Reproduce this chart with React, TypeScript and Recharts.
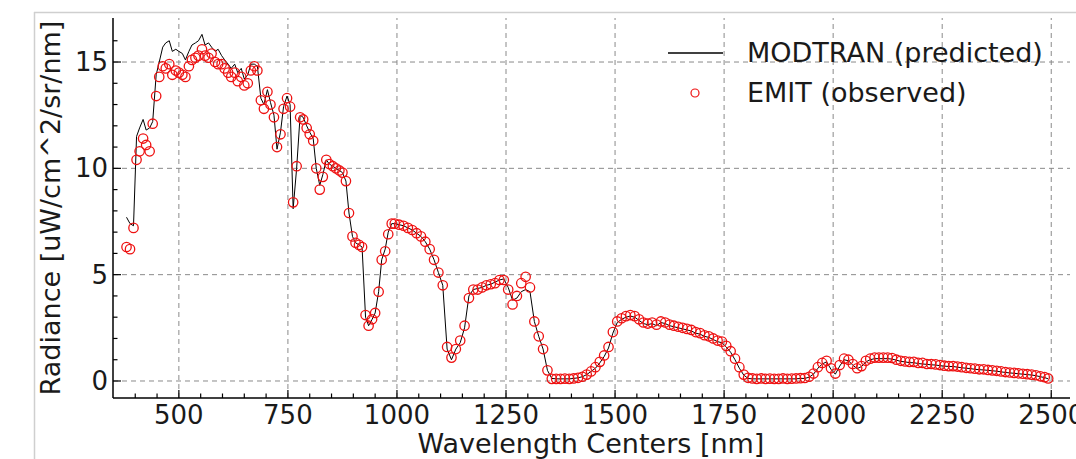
import React from 'react';
import { ComposedChart, Line, Scatter, XAxis, YAxis, ReferenceLine, Legend } from 'recharts';

const FONT = '"DejaVu Sans", "Liberation Sans", sans-serif';

// wavelength centers [nm]
const wavelengths = [
  380, 388, 396, 403, 410, 418, 425, 433, 440, 448,
  455, 463, 470, 478, 485, 493, 500, 508, 515, 523,
  530, 538, 545, 553, 560, 568, 575, 583, 590, 598,
  605, 613, 620, 628, 635, 643, 650, 658, 665, 673,
  680, 688, 695, 703, 710, 718, 725, 733, 740, 748,
  755, 762, 770, 778, 785, 793, 800, 808, 815, 823,
  830, 838, 845, 853, 860, 868, 875, 883, 890, 898,
  905, 913, 920, 928, 935, 943, 950, 958, 965, 973,
  980, 988, 995, 1005, 1015, 1025, 1035, 1045, 1055, 1065,
  1075, 1085, 1095, 1105, 1115, 1125, 1135, 1145, 1155, 1165,
  1175, 1185, 1195, 1205, 1215, 1225, 1235, 1245, 1255, 1265,
  1275, 1285, 1295, 1305, 1315, 1325, 1335, 1345, 1355, 1365,
  1375, 1385, 1395, 1405, 1415, 1425, 1435, 1445, 1455, 1465,
  1475, 1485, 1495, 1505, 1515, 1525, 1535, 1545, 1555, 1565,
  1575, 1585, 1595, 1605, 1615, 1625, 1635, 1645, 1655, 1665,
  1675, 1685, 1695, 1705, 1715, 1725, 1735, 1745, 1755, 1765,
  1775, 1785, 1795, 1805, 1815, 1825, 1835, 1845, 1855, 1865,
  1875, 1885, 1895, 1905, 1915, 1925, 1935, 1945, 1955, 1965,
  1975, 1985, 1995, 2005, 2015, 2025, 2035, 2045, 2055, 2065,
  2075, 2085, 2095, 2105, 2115, 2125, 2135, 2145, 2155, 2165,
  2175, 2185, 2195, 2205, 2215, 2225, 2235, 2245, 2255, 2265,
  2275, 2285, 2295, 2305, 2315, 2325, 2335, 2345, 2355, 2365,
  2375, 2385, 2395, 2405, 2415, 2425, 2435, 2445, 2455, 2465,
  2475, 2485, 2493,
];

// EMIT (observed) radiance
const emit = [
  6.3, 6.2, 7.2, 10.4, 10.8, 11.4, 11.1, 10.8, 12.1, 13.4,
  14.3, 14.8, 14.7, 14.9, 14.4, 14.6, 14.5, 14.4, 14.3, 14.8,
  15.1, 15.2, 15.3, 15.6, 15.3, 15.2, 15.4, 15.0, 14.9, 14.9,
  14.7, 14.5, 14.3, 14.5, 14.1, 14.3, 13.9, 14.0, 14.6, 14.8,
  14.6, 13.2, 12.8, 13.6, 13.0, 12.4, 11.0, 11.6, 12.8, 13.3,
  12.9, 8.4, 10.1, 12.4, 12.3, 11.9, 11.6, 11.3, 10.0, 9.0,
  9.6, 10.4, 10.2, 10.1, 10.0, 9.9, 9.8, 9.4, 7.9, 6.8,
  6.5, 6.4, 6.3, 3.1, 2.6, 2.9, 3.2, 4.2, 5.7, 6.1,
  6.9, 7.4, 7.4, 7.35, 7.3, 7.2, 7.1, 6.95, 6.8, 6.55,
  6.2, 5.7, 5.1, 4.5, 1.6, 1.1, 1.5, 1.9, 2.6, 3.9,
  4.3, 4.3, 4.4, 4.5, 4.55, 4.6, 4.75, 4.75, 4.3, 3.6,
  4.0, 4.6, 4.9, 4.4, 2.8, 2.1, 1.5, 0.5, 0.1, 0.1,
  0.1, 0.11, 0.1, 0.12, 0.15, 0.2, 0.3, 0.45, 0.65, 0.9,
  1.2, 1.6, 2.3, 2.8, 2.95, 3.05, 3.1, 3.05, 2.9, 2.75,
  2.7, 2.75, 2.65, 2.8, 2.75, 2.65, 2.6, 2.55, 2.5, 2.45,
  2.4, 2.3, 2.25, 2.15, 2.1, 2.0, 1.9, 1.85, 1.65, 1.4,
  1.05, 0.65, 0.3, 0.15, 0.12, 0.1, 0.12, 0.1, 0.11, 0.1,
  0.1, 0.12, 0.1, 0.11, 0.12, 0.13, 0.14, 0.2, 0.35, 0.65,
  0.85, 0.95, 0.6, 0.35, 0.75, 1.05, 1.0, 0.8, 0.6, 0.7,
  0.95, 1.05, 1.1, 1.1, 1.1, 1.1, 1.08, 1.0, 0.95, 0.92,
  0.9, 0.9, 0.85, 0.85, 0.8, 0.8, 0.78, 0.75, 0.72, 0.7,
  0.7, 0.68, 0.65, 0.62, 0.6, 0.58, 0.55, 0.55, 0.52, 0.5,
  0.48, 0.45, 0.42, 0.4, 0.38, 0.36, 0.34, 0.32, 0.3, 0.27,
  0.22, 0.18, 0.12,
];

// MODTRAN (predicted) radiance
const modtran = [
  7.7, 7.4, 7.3, 11.5, 11.9, 12.3, 11.8, 11.9, 12.2, 14.4,
  15.0, 15.7, 15.9, 16.0, 15.5, 15.6, 15.5, 15.4, 15.1, 15.5,
  15.8, 15.9, 16.0, 16.3, 15.8, 15.9, 15.7, 15.5, 15.6, 15.3,
  15.1, 14.9, 14.7, 14.9, 14.5, 14.7, 14.2, 14.4, 14.9, 14.9,
  14.8, 13.3, 13.0, 13.7, 13.1, 12.5, 10.9, 11.7, 12.9, 13.4,
  13.0, 8.1, 10.0, 12.5, 12.4, 12.0, 11.7, 11.4, 10.0, 9.2,
  9.7, 10.4, 10.2, 10.1, 10.0, 9.9, 9.8, 9.4, 7.9, 6.8,
  6.5, 6.4, 6.3, 3.0, 2.6, 2.9, 3.2, 4.2, 5.7, 6.2,
  7.0, 7.4, 7.4, 7.35, 7.3, 7.2, 7.1, 6.95, 6.8, 6.55,
  6.2, 5.7, 5.1, 4.5, 1.5, 1.0, 1.5, 1.8, 2.5, 4.0,
  4.3, 4.35, 4.4, 4.5, 4.55, 4.65, 4.75, 4.8, 4.4, 3.8,
  3.9, 4.2, 4.3, 4.2, 2.8, 2.1, 1.5, 0.5, 0.12, 0.1,
  0.1, 0.1, 0.1, 0.12, 0.15, 0.2, 0.3, 0.45, 0.6, 0.85,
  1.15, 1.55, 2.25, 2.75, 2.9, 3.0, 3.05, 3.0, 2.85, 2.7,
  2.65, 2.7, 2.6, 2.75, 2.7, 2.6, 2.55, 2.5, 2.45, 2.4,
  2.35, 2.25, 2.2, 2.1, 2.05, 1.95, 1.85, 1.8, 1.6, 1.35,
  1.0, 0.6, 0.28, 0.12, 0.1, 0.1, 0.1, 0.1, 0.1, 0.1,
  0.1, 0.1, 0.1, 0.1, 0.1, 0.12, 0.12, 0.18, 0.32, 0.6,
  0.8, 0.9, 0.55, 0.32, 0.7, 1.0, 0.95, 0.75, 0.58, 0.68,
  0.9, 1.0, 1.05, 1.05, 1.05, 1.05, 1.03, 0.98, 0.92, 0.9,
  0.86, 0.86, 0.82, 0.8, 0.78, 0.76, 0.75, 0.72, 0.7, 0.68,
  0.68, 0.65, 0.62, 0.6, 0.58, 0.55, 0.53, 0.52, 0.5, 0.48,
  0.46, 0.43, 0.4, 0.38, 0.36, 0.34, 0.32, 0.3, 0.28, 0.25,
  0.2, 0.16, 0.1,
];

const xTicks = [
  400, 450, 500, 550, 600, 650, 700, 750, 800, 850, 900, 950, 1000, 1050,
  1100, 1150, 1200, 1250, 1300, 1350, 1400, 1450, 1500, 1550, 1600, 1650,
  1700, 1750, 1800, 1850, 1900, 1950, 2000, 2050, 2100, 2150, 2200, 2250,
  2300, 2350, 2400, 2450, 2500,
];
const xMajor = [500, 750, 1000, 1250, 1500, 1750, 2000, 2250, 2500];
const yTicks = [0, 1, 2, 3, 4, 5, 6, 7, 8, 9, 10, 11, 12, 13, 14, 15, 16];
const yMajor = [0, 5, 10, 15];

const X_DOMAIN = [349, 2543];
const Y_DOMAIN = [-0.8, 17.07];

const data = wavelengths.map((wl, i) => ({ wl, emit: emit[i], modtran: modtran[i] }));

const GRID = '#8a8a8a';
const RED = '#ee1111';

function BottomTick(props: any) {
  const { x, y, payload } = props;
  const major = xMajor.includes(payload.value);
  return (
    <g>
      <line x1={x} x2={x} y1={y} y2={y - (major ? 8 : 4.5)} stroke="#000" strokeWidth={1.2} />
      {major && (
        <text x={x} y={y + 26} textAnchor="middle" fontSize={26} fontFamily={FONT} fill="#1a1a1a">
          {payload.value}
        </text>
      )}
    </g>
  );
}

function TopTick(props: any) {
  const { x, y, payload } = props;
  const major = xMajor.includes(payload.value);
  return <line x1={x} x2={x} y1={y} y2={y + (major ? 8 : 4.5)} stroke="#000" strokeWidth={1.2} />;
}

function LeftTick(props: any) {
  const { x, y, payload } = props;
  const major = yMajor.includes(payload.value);
  return (
    <g>
      <line x1={x} x2={x + (major ? 8 : 4.5)} y1={y} y2={y} stroke="#000" strokeWidth={1.2} />
      {major && (
        <text x={x - 5} y={y} textAnchor="end" dominantBaseline="central" fontSize={26} fontFamily={FONT} fill="#1a1a1a">
          {payload.value}
        </text>
      )}
    </g>
  );
}

function RightTick(props: any) {
  const { x, y, payload } = props;
  const major = yMajor.includes(payload.value);
  return <line x1={x} x2={x - (major ? 8 : 4.5)} y1={y} y2={y} stroke="#000" strokeWidth={1.2} />;
}

function OpenCircle(props: any) {
  const { cx, cy } = props;
  if (cx == null || cy == null) return null;
  return <circle cx={cx} cy={cy} r={4.7} fill="none" stroke={RED} strokeWidth={1.3} />;
}

function LegendBox() {
  return (
    <div style={{ fontFamily: FONT, fontSize: 27, color: '#1a1a1a', lineHeight: '40px' }}>
      <div style={{ display: 'flex', alignItems: 'center', height: 40 }}>
        <svg width={87} height={40}>
          <line x1={8} x2={63} y1={20} y2={20} stroke="#000" strokeWidth={1.5} />
        </svg>
        <span>MODTRAN (predicted)</span>
      </div>
      <div style={{ display: 'flex', alignItems: 'center', height: 40 }}>
        <svg width={87} height={40}>
          <circle cx={35} cy={20} r={4} fill="none" stroke={RED} strokeWidth={1.2} />
        </svg>
        <span>EMIT (observed)</span>
      </div>
    </div>
  );
}

const axisLine = { stroke: '#000', strokeWidth: 1.5 };

export default function App() {
  return (
    <div style={{ position: 'absolute', left: 0, top: 0, width: 1076, height: 459, background: '#fff', overflow: 'hidden' }}>
      <ComposedChart width={1076} height={459} data={data} margin={{ top: 18, right: 6, bottom: 0, left: 0 }}>
        <XAxis
          dataKey="wl"
          type="number"
          domain={X_DOMAIN}
          allowDataOverflow
          ticks={xTicks}
          interval={0}
          height={61}
          tickSize={0}
          tickMargin={0}
          tickLine={false}
          axisLine={axisLine}
          tick={<BottomTick />}
        />
        <XAxis
          xAxisId="top"
          orientation="top"
          dataKey="wl"
          type="number"
          domain={X_DOMAIN}
          allowDataOverflow
          ticks={xTicks}
          interval={0}
          height={0}
          tickSize={0}
          tickMargin={0}
          tickLine={false}
          axisLine={axisLine}
          tick={<TopTick />}
        />
        <YAxis
          type="number"
          domain={Y_DOMAIN}
          allowDataOverflow
          ticks={yTicks}
          interval={0}
          width={113}
          tickSize={0}
          tickMargin={0}
          tickLine={false}
          axisLine={axisLine}
          tick={<LeftTick />}
        />
        <YAxis
          yAxisId="right"
          orientation="right"
          type="number"
          domain={Y_DOMAIN}
          allowDataOverflow
          ticks={yTicks}
          interval={0}
          width={0}
          tickSize={0}
          tickMargin={0}
          tickLine={false}
          axisLine={axisLine}
          tick={<RightTick />}
        />
        {xMajor.map((v) => (
          <ReferenceLine key={'x' + v} x={v} stroke={GRID} strokeDasharray="5 4" strokeWidth={1} />
        ))}
        {yMajor.map((v) => (
          <ReferenceLine key={'y' + v} y={v} stroke={GRID} strokeDasharray="5 4" strokeWidth={1} />
        ))}
        <Scatter dataKey="emit" name="EMIT (observed)" shape={<OpenCircle />} isAnimationActive={false} />
        <Line
          dataKey="modtran"
          name="MODTRAN (predicted)"
          type="linear"
          stroke="#000"
          strokeWidth={1}
          dot={false}
          activeDot={false}
          isAnimationActive={false}
        />
        <Legend
          layout="vertical"
          align="center"
          verticalAlign="middle"
          content={() => <LegendBox />}
          wrapperStyle={{ left: 660, top: 33, width: 420 }}
        />
      </ComposedChart>
      <svg width={1076} height={459} style={{ position: 'absolute', left: 0, top: 0, pointerEvents: 'none' }}>
        <line x1={34.5} x2={34.5} y1={12} y2={459} stroke="#cfcfcf" strokeWidth={1.5} />
        <line x1={34} x2={1076} y1={12.5} y2={12.5} stroke="#cfcfcf" strokeWidth={1.5} />
        <text x={591} y={453} textAnchor="middle" fontSize={27} fontFamily={FONT} fill="#1a1a1a">
          Wavelength Centers [nm]
        </text>
        <text
          x={60}
          y={208}
          textAnchor="middle"
          fontSize={27}
          fontFamily={FONT}
          fill="#1a1a1a"
          transform="rotate(-90 60 208)"
        >
          Radiance [uW/cm^2/sr/nm]
        </text>
      </svg>
    </div>
  );
}
